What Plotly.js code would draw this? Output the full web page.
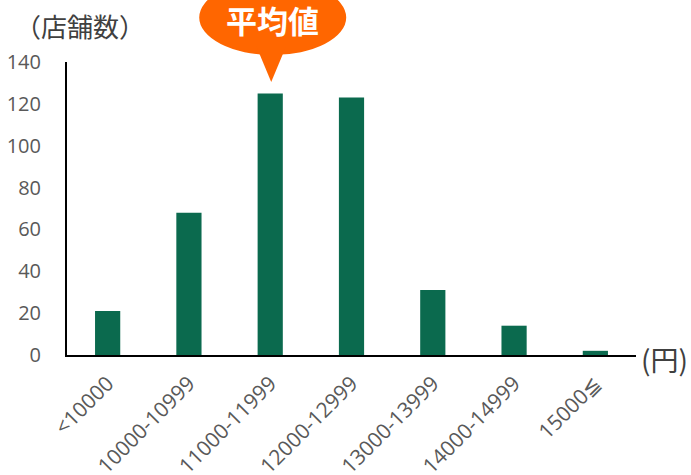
<!DOCTYPE html>
<html>
<head>
<meta charset="utf-8">
<script src="https://cdn.plot.ly/plotly-3.0.1.min.js"></script>
<style>html,body{margin:0;padding:0;background:#fff;}#chart{width:691px;height:475px;}</style>
</head>
<body>
<div id="chart"></div>
<script>
// Data
const categories = ['<10000', '10000-10999', '11000-11999', '12000-12999', '13000-13999', '14000-14999', '15000≦'];
const storeCounts = [21, 68, 125, 123, 31, 14, 2];
const yTickValues = [0, 20, 40, 60, 80, 100, 120, 140];
const yAxisLabel = '（店舗数）';
const xAxisUnit = '(円)';
const calloutLabel = '平均値';
const calloutCategory = '11000-11999';

const calloutIdx = categories.indexOf(calloutCategory);
const calloutX = (calloutIdx + 0.5) / categories.length;

const cjk = 'Noto Sans CJK JP, sans-serif';

const trace = {
  type: 'bar',
  x: categories,
  y: storeCounts,
  marker: {color: '#0B6A4E', line: {width: 0}},
  hoverinfo: 'none'
};

const layout = {
  width: 691, height: 475,
  margin: {l: 67, r: 55, t: 62, b: 120},
  paper_bgcolor: '#fff', plot_bgcolor: '#fff',
  bargap: 0.69,
  showlegend: false,
  xaxis: {
    type: 'category',
    showgrid: false, zeroline: false,
    showline: true, linecolor: '#000', linewidth: 2,
    ticks: '', tickangle: -45, ticklabelstandoff: 6,
    tickfont: {family: 'Open Sans, sans-serif', size: 21, color: '#595959'},
    range: [-0.5, categories.length - 0.5]
  },
  yaxis: {
    range: [0, 140],
    tickvals: yTickValues,
    showgrid: false, zeroline: false,
    showline: true, linecolor: '#000', linewidth: 2,
    ticks: '', ticklabelstandoff: 20,
    tickfont: {family: 'Open Sans, sans-serif', size: 20, color: '#595959'}
  },
  shapes: [
    {
      type: 'circle', xref: 'paper', yref: 'paper',
      xsizemode: 'pixel', ysizemode: 'pixel',
      xanchor: calloutX, yanchor: 1,
      x0: -71, x1: 76, y0: 7, y1: 82,
      fillcolor: '#FF6600', line: {width: 0}, layer: 'above'
    },
    {
      type: 'path', xref: 'paper', yref: 'paper',
      xsizemode: 'pixel', ysizemode: 'pixel',
      xanchor: calloutX, yanchor: 1,
      path: 'M -14,16 L 16,16 L 1,-20 Z',
      fillcolor: '#FF6600', line: {width: 0}, layer: 'above'
    }
  ],
  annotations: [
    {
      text: '<b>' + calloutLabel + '</b>', xref: 'paper', yref: 'paper',
      x: calloutX, y: 1, xanchor: 'center', yanchor: 'middle',
      xshift: 2, yshift: 43, showarrow: false,
      font: {family: cjk, size: 31, color: '#fff'}
    },
    {
      text: yAxisLabel, xref: 'paper', yref: 'paper',
      x: 0, y: 1, xanchor: 'left', yanchor: 'middle',
      xshift: -54, yshift: 37, showarrow: false,
      font: {family: cjk, size: 26, color: '#404040'}
    },
    {
      text: xAxisUnit, xref: 'paper', yref: 'y',
      x: 1, y: 0, xanchor: 'left', yanchor: 'middle',
      xshift: 3, yshift: -4, showarrow: false,
      font: {family: cjk, size: 28, color: '#404040'}
    }
  ]
};

Plotly.newPlot('chart', [trace], layout, {displayModeBar: false, staticPlot: true});
</script>
</body>
</html>
